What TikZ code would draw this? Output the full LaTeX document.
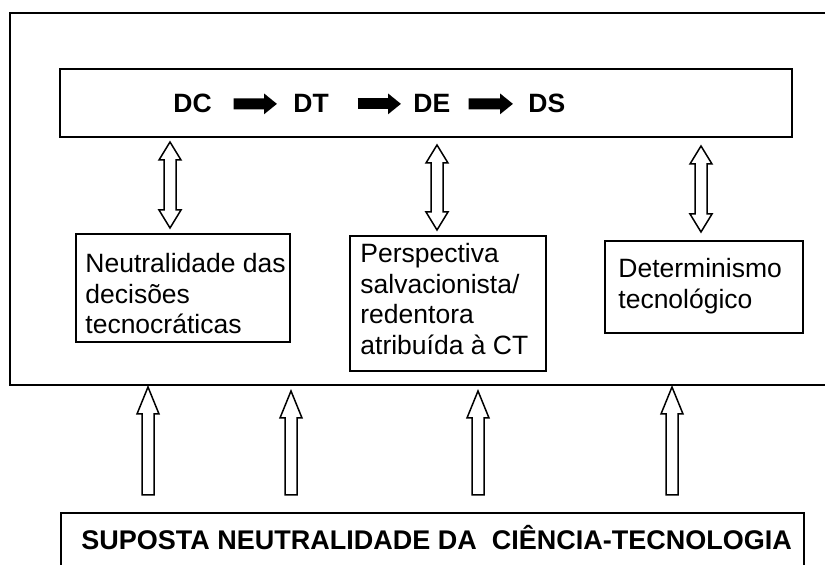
\documentclass[tikz,border=0pt]{standalone}
\usepackage{fontspec}
\setmainfont{Liberation Sans}
\usetikzlibrary{calc,arrows.meta}

\begin{document}
\begin{tikzpicture}[x=0.5pt,y=-0.5pt]
	\tikzset{box/.style={draw,line width=1pt,inner sep=0pt,anchor=north west},
		txt/.style={inner sep=0pt,anchor=north west,align=left,font={\fontsize{13.25pt}{15.3pt}\selectfont}},
		bold/.style={inner sep=0pt,anchor=base west,font={\fontsize{13.25pt}{15.3pt}\selectfont\bfseries}},
		flowarrow/.style={line width=5.5pt,-{Triangle[length=6.5pt,width=10pt]}},
		dblarrow/.style={line width=0.75pt,to path={let \p1=(\tikztostart),\p2=(\tikztotarget) in
			(\x1,\y1) -- (\x1+5.5pt,\y1-9pt) -- (\x1+3pt,\y1-9pt) -- (\x1+3pt,\y2+9pt) -- (\x1+5.5pt,\y2+9pt) -- (\x1,\y2)
			-- (\x1-5.5pt,\y2+9pt) -- (\x1-3pt,\y2+9pt) -- (\x1-3pt,\y1-9pt) -- (\x1-5.5pt,\y1-9pt) -- cycle}},
		uparrow/.style={line width=0.75pt,to path={let \p1=(\tikztostart),\p2=(\tikztotarget) in
			(\x1-3pt,\y1) -- (\x1-3pt,\y2-13.5pt) -- (\x1-5.5pt,\y2-13.5pt) -- (\x1,\y2)
			-- (\x1+5.5pt,\y2-13.5pt) -- (\x1+3pt,\y2-13.5pt) -- (\x1+3pt,\y1) -- cycle}}}
	\useasboundingbox (0,0) rectangle (825,565);
	\clip (0,0) rectangle (825,565);
	
	\node[box,minimum width=415.5pt,minimum height=186pt](frame) at (9,12) {};
	\node[box,minimum width=366pt,minimum height=34pt](flow) at (59,68) {};
	\node[bold](DC) at (173,113) {DC};
	\node[bold](DT) at (293,113) {DT};
	\node[bold](DE) at (413,113) {DE};
	\node[bold](DS) at (528,113) {DS};
	\draw[flowarrow,shorten <=10.8pt,shorten >=8pt] (DC) -- (DT);
	\draw[flowarrow,shorten <=14.3pt,shorten >=6pt] (DT) -- (DE);
	\draw[flowarrow,shorten <=9pt,shorten >=7.5pt] (DE) -- (DS);
	
	\node[box,minimum width=107pt,minimum height=54pt](neutralbox) at (75,233) {};
	\node[txt](neutral) at (85,253) {Neutralidade das\\decisões\\tecnocráticas};
	\node[box,minimum width=98pt,minimum height=67.5pt](salvbox) at (349,235) {};
	\node[txt](salv) at (360,243) {Perspectiva\\salvacionista/\\redentora\\atribuída à CT};
	\node[box,minimum width=99pt,minimum height=46pt](determbox) at (604,240) {};
	\node[txt](determ) at (618,258) {Determinismo\\tecnológico};
	
	\draw[dblarrow] ($(neutralbox.north west |- flow.south)+(95,4)$) to ($(neutralbox.north west)+(95,-5)$);
	\draw[dblarrow] ($(salvbox.north west |- flow.south)+(88,7)$) to ($(salvbox.north west)+(88,-5)$);
	\draw[dblarrow] ($(determbox.north west |- flow.south)+(97,8)$) to ($(determbox.north west)+(97,-8)$);
	
	\node[box,minimum width=371.5pt,minimum height=39pt](base) at (60,512) {};
	\node[bold,font={\fontsize{13.5pt}{15.3pt}\selectfont\bfseries}](suposta) at (81,550) {SUPOSTA NEUTRALIDADE DA\ \ CIÊNCIA-TECNOLOGIA};
	\foreach \dx/\gap in {88/1,231/5,418/5,612/1}
		\draw[uparrow] ($(base.north west)+(\dx,-17)$) to ($(base.north west |- frame.south)+(\dx,\gap)$);
\end{tikzpicture}
\end{document}
